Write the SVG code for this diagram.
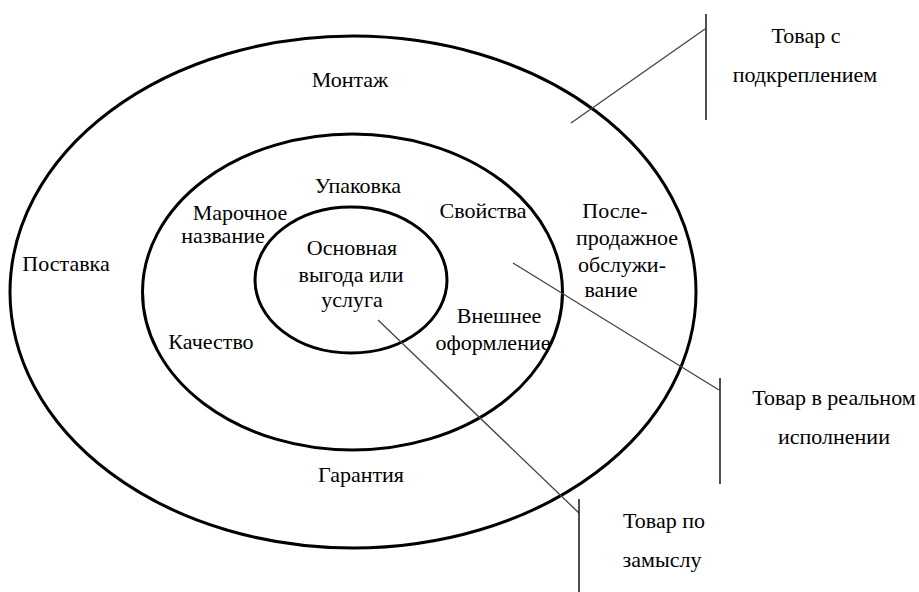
<svg xmlns="http://www.w3.org/2000/svg" width="919" height="592" viewBox="0 0 919 592">
<style>
.ring{fill:none;stroke:#000;stroke-width:3}
.lead{fill:none;stroke:#444;stroke-width:1.3}
.br{fill:none;stroke:#222;stroke-width:1.6}
text{font-family:"Liberation Serif","Times New Roman",serif;font-size:22px;fill:#000;text-anchor:middle}
</style>
<rect width="919" height="592" fill="#fff"/>
<g id="outer">
<ellipse class="ring" cx="353" cy="292" rx="343" ry="256"/>
<text x="350" y="87">Монтаж</text>
<text x="66" y="271">Поставка</text>
<text x="361" y="482">Гарантия</text>
<text x="615" y="218">После-</text>
<text x="627" y="245">продажное</text>
<text x="622" y="272">обслужи-</text>
<text x="611" y="297">вание</text>
</g>
<g id="middle">
<ellipse class="ring" cx="352.5" cy="292" rx="210" ry="158"/>
<text x="358" y="193">Упаковка</text>
<text x="240" y="220">Марочное</text>
<text x="223" y="243">название</text>
<text x="483" y="218">Свойства</text>
<text x="499" y="323">Внешнее</text>
<text x="493" y="350">оформление</text>
<text x="211" y="349">Качество</text>
</g>
<g id="inner">
<ellipse class="ring" cx="351" cy="280" rx="96" ry="73"/>
<text x="352" y="255">Основная</text>
<text x="351" y="282">выгода или</text>
<text x="352" y="307">услуга</text>
</g>
<g id="connectors">
<line class="lead" x1="571" y1="123" x2="705" y2="29"/>
<line class="br" x1="706" y1="14" x2="706" y2="120"/>
<line class="lead" x1="513" y1="263" x2="719" y2="390"/>
<line class="br" x1="720" y1="378" x2="720" y2="484"/>
<line class="lead" x1="378" y1="320" x2="579" y2="513"/>
<line class="br" x1="579" y1="499" x2="579" y2="592"/>
</g>
<g id="label-augmented">
<text x="806" y="43">Товар с</text>
<text x="805" y="82">подкреплением</text>
</g>
<g id="label-actual">
<text x="834" y="405">Товар в реальном</text>
<text x="834" y="444">исполнении</text>
</g>
<g id="label-core">
<text x="664" y="528">Товар по</text>
<text x="662" y="567">замыслу</text>
</g>
</svg>
